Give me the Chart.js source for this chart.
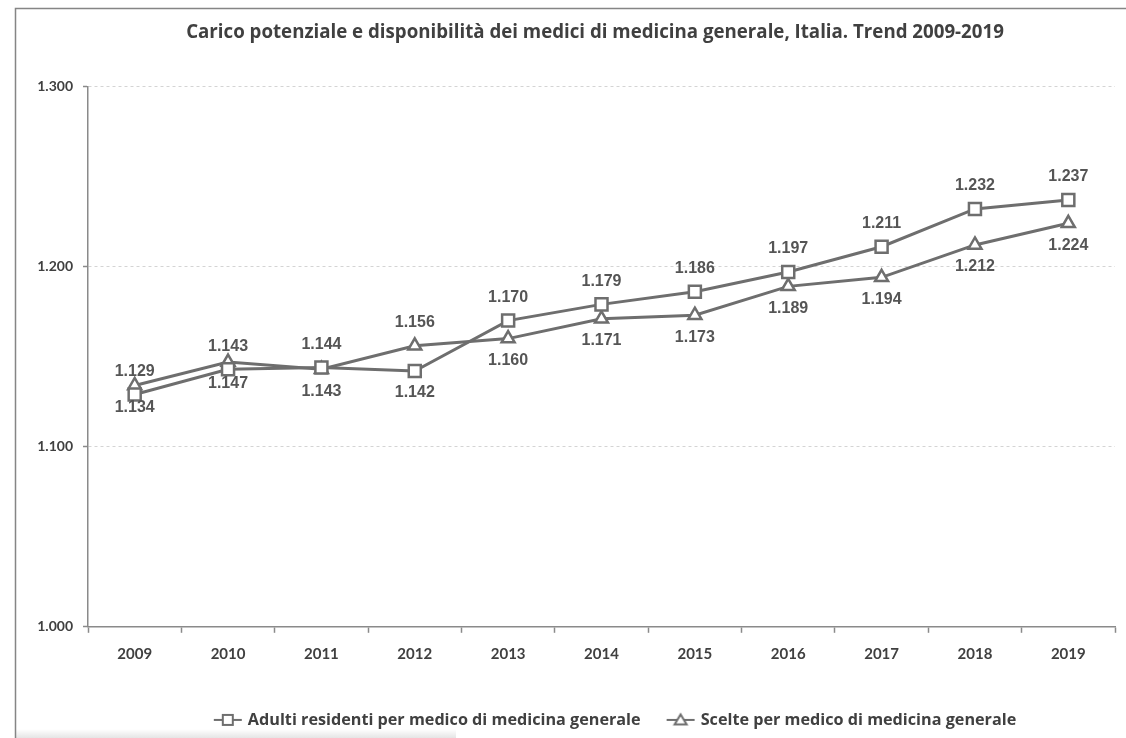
<!DOCTYPE html>
<html lang="it">
<head>
<meta charset="utf-8">
<title>Carico potenziale e disponibilità dei medici di medicina generale</title>
<script src="https://cdn.jsdelivr.net/npm/chart.js@4.4.1/dist/chart.umd.min.js"></script>
<style>
  html, body { margin: 0; padding: 0; background: #fff; }
  #wrap { position: relative; width: 1126px; height: 738px; }
</style>
</head>
<body>
<div id="wrap"><canvas id="chart"></canvas></div>
<script>
// dati (valori in unità, mostrati con il punto delle migliaia)
const years = ['2009', '2010', '2011', '2012', '2013', '2014', '2015', '2016', '2017', '2018', '2019'];
const adultiResidenti = [1129, 1143, 1144, 1142, 1170, 1179, 1186, 1197, 1211, 1232, 1237];
const scelte = [1134, 1147, 1143, 1156, 1160, 1171, 1173, 1189, 1194, 1212, 1224];
const seriesNames = [
  'Adulti residenti per medico di medicina generale',
  'Scelte per medico di medicina generale',
];
const yTicks = [1000, 1100, 1200, 1300];
const chartTitle = 'Carico potenziale e disponibilità dei medici di medicina generale, Italia. Trend 2009-2019';

const lineColor = '#6e6e6e';
const textColor = '#404040';
const labelColor = '#555555';
const tickFont = 'Lato, "Open Sans", sans-serif';
const wideFont = '"Open Sans", Lato, sans-serif';

// 1129 -> "1.129"
const fmt = (v) => {
  const s = String(Math.round(v));
  return s.length > 3 ? `${s.slice(0, -3)}.${s.slice(-3)}` : s;
};

// little line + marker swatch for the legend
function legendSwatch(style) {
  const c = document.createElement('canvas');
  c.width = 30;
  c.height = 16;
  const ctx = c.getContext('2d');
  ctx.strokeStyle = lineColor;
  ctx.lineWidth = 2;
  ctx.beginPath();
  ctx.moveTo(1, 8);
  ctx.lineTo(29, 8);
  ctx.stroke();
  ctx.fillStyle = '#fff';
  ctx.beginPath();
  if (style === 'rect') {
    ctx.rect(10, 3, 10, 10);
  } else {
    ctx.moveTo(15, 2.5);
    ctx.lineTo(21, 12.5);
    ctx.lineTo(9, 12.5);
    ctx.closePath();
  }
  ctx.fill();
  ctx.stroke();
  return c;
}

// background frame like the pasted Excel chart
const framePlugin = {
  id: 'frame',
  beforeDraw(chart) {
    const { ctx, width, height } = chart;
    ctx.save();
    ctx.fillStyle = '#fff';
    ctx.fillRect(0, 0, width, height);
    const g = ctx.createLinearGradient(0, height - 9, 0, height);
    g.addColorStop(0, 'rgba(0,0,0,0)');
    g.addColorStop(1, 'rgba(0,0,0,0.10)');
    ctx.fillStyle = g;
    ctx.fillRect(16, height - 9, 440, 9);
    ctx.strokeStyle = '#858585';
    ctx.lineWidth = 1.5;
    ctx.beginPath();
    ctx.moveTo(15.5, height);
    ctx.lineTo(15.5, 8.5);
    ctx.lineTo(width, 8.5);
    ctx.stroke();
    ctx.restore();
  },
  afterLayout(chart) {
    // title and legend sit right of the canvas centre in the original
    const tb = chart.titleBlock;
    if (tb) {
      tb.left += 29;
      tb.right += 29;
    }
    const lg = chart.legend;
    if (lg) {
      lg.left += 50;
      lg.right += 50;
    }
  },
};

// value labels: first series above, second below, unless the gap is large
const valueLabels = {
  id: 'valueLabels',
  afterDatasetsDraw(chart) {
    const { ctx } = chart;
    const sets = chart.data.datasets;
    ctx.save();
    ctx.font = 'bold 16px "Liberation Sans", Arial, sans-serif';
    ctx.fillStyle = labelColor;
    ctx.textAlign = 'center';
    ctx.textBaseline = 'middle';
    sets.forEach((ds, di) => {
      const meta = chart.getDatasetMeta(di);
      meta.data.forEach((pt, i) => {
        const mine = ds.data[i];
        const other = sets[1 - di].data[i];
        let above = di === 0;
        if (Math.abs(other - mine) > 10) above = mine > other;
        const dy = above ? -23 : 22;
        ctx.fillText(fmt(mine), pt.x, pt.y + dy);
      });
    });
    ctx.restore();
  },
};

const ctx = document.getElementById('chart');

new Chart(ctx, {
  type: 'line',
  data: {
    labels: years,
    datasets: [
      {
        label: seriesNames[0],
        data: adultiResidenti,
        borderColor: lineColor,
        borderWidth: 3,
        pointStyle: 'rect',
        pointRadius: 8.5,
        pointBorderWidth: 2.5,
        pointBackgroundColor: '#fff',
        pointBorderColor: lineColor,
        tension: 0,
      },
      {
        label: seriesNames[1],
        data: scelte,
        borderColor: lineColor,
        borderWidth: 3,
        pointStyle: 'triangle',
        pointRadius: 7.5,
        pointBorderWidth: 2.5,
        pointBackgroundColor: '#fff',
        pointBorderColor: lineColor,
        tension: 0,
      },
    ],
  },
  options: {
    responsive: true,
    maintainAspectRatio: false,
    animation: false,
    layout: {
      padding: { left: 15, right: 9, top: 0, bottom: 0 },
    },
    plugins: {
      title: {
        display: true,
        text: chartTitle,
        color: textColor,
        font: { family: wideFont, size: 18.7, weight: 'bold' },
        padding: { top: 21, bottom: 43 },
      },
      legend: {
        display: true,
        position: 'bottom',
        labels: {
          color: textColor,
          font: { family: wideFont, size: 16.2, weight: 'bold' },
          usePointStyle: true,
          pointStyleWidth: 24,
          padding: 28,
          generateLabels: (chart) => chart.data.datasets.map((ds, i) => ({
            text: ds.label,
            pointStyle: legendSwatch(ds.pointStyle),
            fontColor: textColor,
            lineWidth: 0,
            datasetIndex: i,
          })),
        },
      },
      tooltip: { enabled: false },
    },
    scales: {
      x: {
        offset: true,
        afterFit: (s) => { s.height = 57; },
        grid: {
          display: true,
          offset: true,
          drawOnChartArea: false,
          tickLength: 6,
          tickColor: '#8a8a8a',
          tickWidth: 1.5,
        },
        border: { color: '#8a8a8a', width: 1.5 },
        ticks: {
          color: textColor,
          padding: 12,
          font: { family: tickFont, size: 15, weight: 'bold' },
        },
      },
      y: {
        min: 1000,
        max: 1300,
        afterFit: (s) => { s.width = 73; },
        afterBuildTicks: (s) => { s.ticks = yTicks.map((v) => ({ value: v })); },
        grid: {
          color: (c) => (c.index === 0 ? 'rgba(0,0,0,0)' : '#d4d4d4'),
          lineWidth: 1,
          tickLength: 5,
          tickColor: '#8a8a8a',
          tickWidth: 1.5,
        },
        border: { color: '#8a8a8a', width: 1.5, dash: [3, 3] },
        ticks: {
          color: textColor,
          padding: 10,
          font: { family: tickFont, size: 14, weight: 'bold' },
          callback: (v) => fmt(v),
        },
      },
    },
  },
  plugins: [framePlugin, valueLabels],
});
</script>
</body>
</html>
